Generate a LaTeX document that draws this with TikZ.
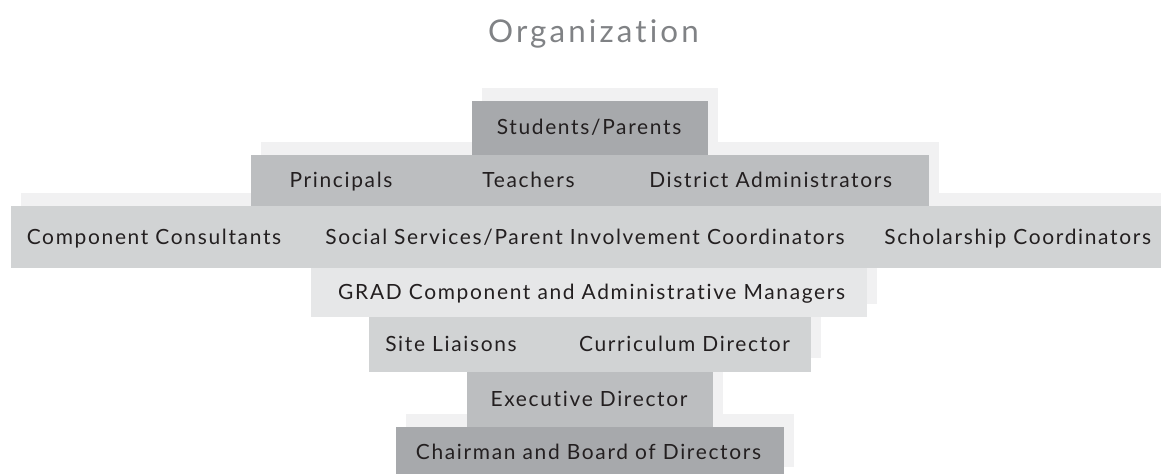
\documentclass[tikz,border=0pt]{standalone}
\usepackage{fontspec}
\setmainfont{Lato}
\newfontfamily\rolefont[LetterSpace=8,Ligatures=NoCommon]{Lato}
\newfontfamily\headfont[LetterSpace=10,Ligatures=NoCommon]{Lato}
\definecolor{tierdark}{HTML}{A7A9AC}
\definecolor{tiermid}{HTML}{BCBEC0}
\definecolor{tierlight}{HTML}{D1D3D4}
\definecolor{tierpale}{HTML}{E6E7E8}
\definecolor{tierback}{HTML}{F1F1F2}
\definecolor{inktext}{HTML}{231F20}
\definecolor{inktitle}{HTML}{808285}
\begin{document}
\begin{tikzpicture}[x=0.75pt,y=-0.75pt,
    backdrop/.style={fill=tierback},
    role/.style={anchor=base,inner sep=0pt,text=inktext,font=\rolefont\fontsize{15.7}{18}\selectfont},
    heading/.style={anchor=base,inner sep=0pt,text=inktitle,font=\headfont\fontsize{23.5}{27}\selectfont}]
    \useasboundingbox (0,0) rectangle (1161,474);
    \node[heading] (title) at (593.5,42.7) {Organization};
    \fill[backdrop] (482,88) rectangle (718,142);
    \fill[backdrop] (261,142) rectangle (939,193);
    \fill[backdrop] (21,193) rectangle (1161,255);
    \fill[backdrop] (321,255) rectangle (877,304);
    \fill[backdrop] (379,304) rectangle (821,358);
    \fill[backdrop] (477,358) rectangle (723,413.5);
    \fill[backdrop] (406,413.5) rectangle (794,466.5);
    \fill[tierdark] (472,101) rectangle (708,155);
    \fill[tiermid] (251,155) rectangle (929,206);
    \fill[tierlight] (11,206) rectangle (1161,268);
    \fill[tierpale] (311,268) rectangle (867,317);
    \fill[tierlight] (369,317) rectangle (811,372);
    \fill[tiermid] (467,372) rectangle (713,427);
    \fill[tierdark] (396,427) rectangle (784,474);
    \node[role] (students) at (589,135) {Students/Parents};
    \node[role] (principals) at (341,187.5) {Principals};
    \node[role] (teachers) at (528.5,187.5) {Teachers};
    \node[role] (district) at (770.7,187.5) {District Administrators};
    \node[role] (consultants) at (154,244) {Component Consultants};
    \node[role] (social) at (585,244) {Social Services/Parent Involvement Coordinators};
    \node[role] (scholarship) at (1017.7,244) {Scholarship Coordinators};
    \node[role] (grad) at (591.7,299.5) {GRAD Component and Administrative Managers};
    \node[role] (liaisons) at (451,351) {Site Liaisons};
    \node[role] (curriculum) at (684.5,351) {Curriculum Director};
    \node[role] (executive) at (589,406.5) {Executive Director};
    \node[role] (chairman) at (588.5,459) {Chairman and Board of Directors};
\end{tikzpicture}
\end{document}
